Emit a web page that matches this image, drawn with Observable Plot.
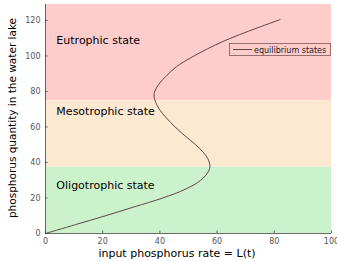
<!DOCTYPE html>
<html>
<head>
<meta charset="utf-8">
<script src="https://cdn.jsdelivr.net/npm/d3@7"></script>
<script src="https://cdn.jsdelivr.net/npm/@observablehq/plot@0.6"></script>
<style>
  html, body { margin: 0; padding: 0; background: #fff; }
  #chart { width: 337px; height: 261px; overflow: hidden; }
</style>
</head>
<body>
<div id="chart"></div>
<script>
// Equilibrium curve: phosphorus quantity P and input rate L
const phosphorus = [0, 5, 10, 15, 20, 25, 30, 35, 38, 42, 46, 50, 55, 60, 65, 70, 75, 79, 84, 89, 94, 99, 104, 108, 112, 116, 120.5];
const inputRate  = [0, 10.5, 21, 31, 41, 49, 54.3, 57, 57.5, 56.8, 55, 52.5, 48.8, 45.3, 42.3, 39.8, 38.3, 38, 39.6, 42.4, 45.8, 50.8, 56.6, 61.8, 67.8, 74.4, 82];

// Trophic state bands
const bandNames  = ["Oligotrophic state", "Mesotrophic state", "Eutrophic state"];
const bandLow    = [0, 37.5, 75];
const bandHigh   = [37.5, 75, 129];
const bandColors = ["#ccf2cc", "#fde8d2", "#ffcccc"];
const labelY     = [27, 69, 109];

const xTicks = [0, 20, 40, 60, 80, 100];
const yTicks = [0, 20, 40, 60, 80, 100, 120];
const legendLabel = "equilibrium states";

const curve = phosphorus.map((p, i) => ({P: p, L: inputRate[i]}));
const bands = bandNames.map((n, i) => ({name: n, y1: bandLow[i], y2: bandHigh[i], color: bandColors[i], ly: labelY[i]}));

const font = "DejaVu Sans, sans-serif";
const plot = Plot.plot({
  width: 337,
  height: 261,
  marginLeft: 45,
  marginRight: 6,
  marginTop: 4,
  marginBottom: 28,
  style: {fontFamily: font, background: "#fff", overflow: "visible"},
  x: {domain: [0, 100], ticks: xTicks, label: null},
  y: {domain: [0, 129], ticks: yTicks, label: null},
  marks: [
    Plot.rect(bands, {x1: 0, x2: 100, y1: "y1", y2: "y2", fill: "color"}),
    Plot.text(bands, {x: 3.8, y: "ly", text: "name", textAnchor: "start", fontSize: 11, fill: "#000", fontFamily: font}),
    Plot.line(curve, {x: "L", y: "P", stroke: "#5a4646", strokeWidth: 1, curve: "catmull-rom"}),
    Plot.ruleX([0], {stroke: "#444", strokeWidth: 0.8}),
    Plot.ruleY([0], {stroke: "#444", strokeWidth: 0.8}),
    Plot.ruleX(xTicks, {x: d => d, y1: 0, y2: 1.4, stroke: "#444", strokeWidth: 0.8}),
    Plot.ruleY(yTicks, {y: d => d, x1: 0, x2: 0.9, stroke: "#444", strokeWidth: 0.8}),
    Plot.axisX({ticks: xTicks, tickSize: 0, tickPadding: 5, fontSize: 8, color: "#555", label: null}),
    Plot.axisY({ticks: yTicks, tickSize: 0, tickPadding: 5, fontSize: 8, color: "#555", label: null})
  ]
});

const svg = d3.select(plot);
// Axis titles
svg.append("text")
  .attr("x", 177).attr("y", 257)
  .attr("text-anchor", "middle")
  .attr("font-family", font).attr("font-size", 11).attr("fill", "#000")
  .text("input phosphorus rate = L(t)");
svg.append("text")
  .attr("transform", "translate(16,118) rotate(-90)")
  .attr("text-anchor", "middle")
  .attr("font-family", font).attr("font-size", 10.5).attr("fill", "#000")
  .text("phosphorus quantity in the water lake");
// Legend
const lg = svg.append("g");
lg.append("rect").attr("x", 229.5).attr("y", 43.5).attr("width", 101).attr("height", 12)
  .attr("fill", "none").attr("stroke", "#7a5a5a").attr("stroke-width", 0.8);
lg.append("line").attr("x1", 233).attr("x2", 252).attr("y1", 49.5).attr("y2", 49.5)
  .attr("stroke", "#5a4646").attr("stroke-width", 1);
lg.append("text").attr("x", 254).attr("y", 52.5)
  .attr("text-anchor", "start")
  .attr("font-family", font).attr("font-size", 8).attr("fill", "#222")
  .text(legendLabel);

document.getElementById("chart").appendChild(plot);
</script>
</body>
</html>
